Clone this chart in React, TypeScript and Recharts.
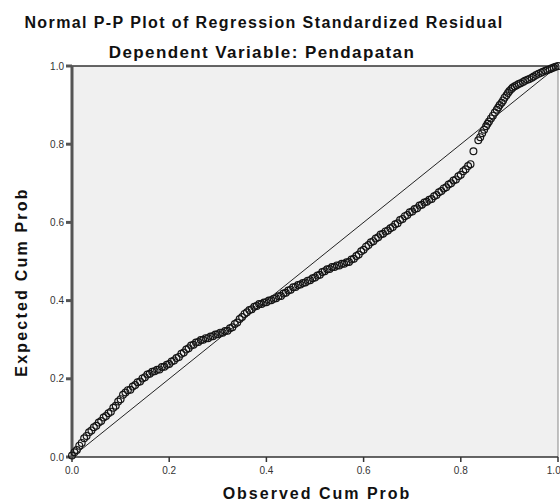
import React from "react";
import { ScatterChart, Scatter, XAxis, YAxis, CartesianGrid, ReferenceLine } from "recharts";

const observedCumProb = [
  0.0, 0.005, 0.01, 0.015, 0.02, 0.025, 0.03, 0.035, 0.04, 0.045,
  0.05, 0.055, 0.06, 0.065, 0.07, 0.075, 0.08, 0.085, 0.09, 0.095,
  0.1, 0.105, 0.11, 0.115, 0.12, 0.125, 0.13, 0.135, 0.14, 0.145,
  0.15, 0.155, 0.16, 0.165, 0.17, 0.175, 0.18, 0.185, 0.19, 0.195,
  0.2, 0.205, 0.21, 0.215, 0.22, 0.225, 0.23, 0.235, 0.24, 0.245,
  0.25, 0.255, 0.26, 0.265, 0.27, 0.275, 0.28, 0.285, 0.29, 0.295,
  0.3, 0.305, 0.31, 0.315, 0.32, 0.325, 0.33, 0.335, 0.34, 0.345,
  0.35, 0.355, 0.36, 0.365, 0.37, 0.375, 0.38, 0.385, 0.39, 0.395,
  0.4, 0.405, 0.41, 0.415, 0.42, 0.425, 0.43, 0.435, 0.44, 0.445,
  0.45, 0.455, 0.46, 0.465, 0.47, 0.475, 0.48, 0.485, 0.49, 0.495,
  0.5, 0.505, 0.51, 0.515, 0.52, 0.525, 0.53, 0.535, 0.54, 0.545,
  0.55, 0.555, 0.56, 0.565, 0.57, 0.575, 0.58, 0.585, 0.59, 0.595,
  0.6, 0.605, 0.61, 0.615, 0.62, 0.625, 0.63, 0.635, 0.64, 0.645,
  0.65, 0.655, 0.66, 0.665, 0.67, 0.675, 0.68, 0.685, 0.69, 0.695,
  0.7, 0.705, 0.71, 0.715, 0.72, 0.725, 0.73, 0.735, 0.74, 0.745,
  0.75, 0.755, 0.76, 0.765, 0.77, 0.775, 0.78, 0.785, 0.79, 0.795,
  0.8, 0.805, 0.81, 0.815, 0.82, 0.826, 0.836, 0.84, 0.844, 0.848,
  0.852, 0.855, 0.858, 0.862, 0.866, 0.87, 0.874, 0.877, 0.88, 0.884,
  0.887, 0.89, 0.894, 0.897, 0.9, 0.904, 0.907, 0.911, 0.915, 0.919,
  0.923, 0.928, 0.932, 0.937, 0.941, 0.946, 0.95, 0.955, 0.96, 0.965,
  0.969, 0.974, 0.978, 0.983, 0.987, 0.991, 0.995, 1.0,
];

const expectedCumProb = [
  0.004, 0.012, 0.018, 0.029, 0.036, 0.048, 0.054, 0.063, 0.068, 0.076,
  0.08, 0.088, 0.092, 0.101, 0.105, 0.112, 0.116, 0.126, 0.131, 0.142,
  0.148, 0.159, 0.165, 0.171, 0.172, 0.18, 0.184, 0.191, 0.193, 0.201,
  0.204, 0.211, 0.213, 0.218, 0.219, 0.223, 0.224, 0.23, 0.231, 0.236,
  0.238, 0.244, 0.247, 0.253, 0.256, 0.264, 0.267, 0.275, 0.278, 0.285,
  0.287, 0.293, 0.294, 0.299, 0.3, 0.304, 0.304, 0.308, 0.309, 0.313,
  0.314, 0.318, 0.318, 0.322, 0.323, 0.329, 0.332, 0.34, 0.344, 0.353,
  0.358, 0.366, 0.37, 0.376, 0.378, 0.384, 0.386, 0.391, 0.391, 0.395,
  0.396, 0.4, 0.401, 0.405, 0.406, 0.411, 0.412, 0.418, 0.42, 0.426,
  0.428, 0.434, 0.435, 0.44, 0.441, 0.445, 0.446, 0.451, 0.452, 0.457,
  0.459, 0.464, 0.466, 0.473, 0.475, 0.48, 0.481, 0.486, 0.486, 0.49,
  0.49, 0.494, 0.494, 0.498, 0.499, 0.505, 0.507, 0.514, 0.518, 0.526,
  0.53, 0.538, 0.542, 0.549, 0.552, 0.559, 0.562, 0.569, 0.571, 0.577,
  0.579, 0.585, 0.588, 0.595, 0.598, 0.606, 0.609, 0.616, 0.619, 0.626,
  0.628, 0.634, 0.636, 0.643, 0.645, 0.651, 0.653, 0.658, 0.66, 0.667,
  0.67, 0.677, 0.68, 0.687, 0.69, 0.697, 0.7, 0.707, 0.71, 0.718,
  0.722, 0.731, 0.736, 0.744, 0.749, 0.782, 0.81, 0.818, 0.828, 0.837,
  0.846, 0.852, 0.858, 0.866, 0.873, 0.881, 0.888, 0.894, 0.9, 0.906,
  0.912, 0.919, 0.925, 0.931, 0.936, 0.941, 0.945, 0.948, 0.951, 0.954,
  0.956, 0.959, 0.962, 0.965, 0.967, 0.97, 0.973, 0.977, 0.98, 0.983,
  0.985, 0.988, 0.99, 0.992, 0.994, 0.996, 0.998, 1.0,
];

const axisTicks = [0, 0.2, 0.4, 0.6, 0.8, 1.0];

const points = observedCumProb.map((x, i) => ({ x, y: expectedCumProb[i] }));

const font = "'Liberation Sans', Arial, sans-serif";

const Ring = (props: any) => (
  <circle cx={props.cx} cy={props.cy} r={3.4} fill="none" stroke="#151515" strokeWidth={1.2} />
);

export default function App() {
  return (
    <div style={{ position: "absolute", left: 0, top: 0, width: 560, height: 503, background: "#fff", fontFamily: font }}>
      <div style={{ position: "absolute", left: 0, width: 528, top: 14, textAlign: "center", fontSize: 16, fontWeight: "bold", letterSpacing: 1.4, color: "#111" }}>
        Normal P-P Plot of Regression Standardized Residual
      </div>
      <div style={{ position: "absolute", left: 0, width: 524, top: 43, textAlign: "center", fontSize: 17, fontWeight: "bold", letterSpacing: 1.4, color: "#111" }}>
        Dependent Variable: Pendapatan
      </div>
      <ScatterChart width={560} height={503} margin={{ top: 66, right: 2, bottom: 16, left: 32 }}>
        <CartesianGrid fill="#f0f0f0" horizontal={false} vertical={false} />
        <XAxis
          type="number"
          dataKey="x"
          domain={[0, 1]}
          ticks={axisTicks}
          tickFormatter={(v) => v.toFixed(1)}
          height={30}
          stroke="#333"
          strokeWidth={1.5}
          tickSize={5}
          tick={{ fontSize: 10, fill: "#333", fontFamily: font, dy: 3 }}
        />
        <YAxis
          type="number"
          dataKey="y"
          domain={[0, 1]}
          ticks={axisTicks}
          tickFormatter={(v) => v.toFixed(1)}
          width={40}
          stroke="#555"
          strokeWidth={3}
          tickSize={6}
          tick={{ fontSize: 10, fill: "#333", fontFamily: font }}
        />
        <ReferenceLine y={1} stroke="#333" strokeWidth={1.5} />
        <ReferenceLine x={1} stroke="#888" strokeWidth={1} />
        <ReferenceLine segment={[{ x: 0, y: 0 }, { x: 1, y: 1 }]} stroke="#222" strokeWidth={1} />
        <Scatter data={points} shape={Ring} isAnimationActive={false} />
      </ScatterChart>
      <div style={{ position: "absolute", left: 220, width: 194, top: 485, textAlign: "center", fontSize: 16, fontWeight: "bold", letterSpacing: 2, color: "#111" }}>
        Observed Cum Prob
      </div>
      <div
        style={{
          position: "absolute",
          left: 22 - 100,
          top: 283 - 10,
          width: 200,
          textAlign: "center",
          transform: "rotate(-90deg)",
          fontSize: 16,
          fontWeight: "bold",
          letterSpacing: 2.2,
          color: "#111",
        }}
      >
        Expected Cum Prob
      </div>
    </div>
  );
}
